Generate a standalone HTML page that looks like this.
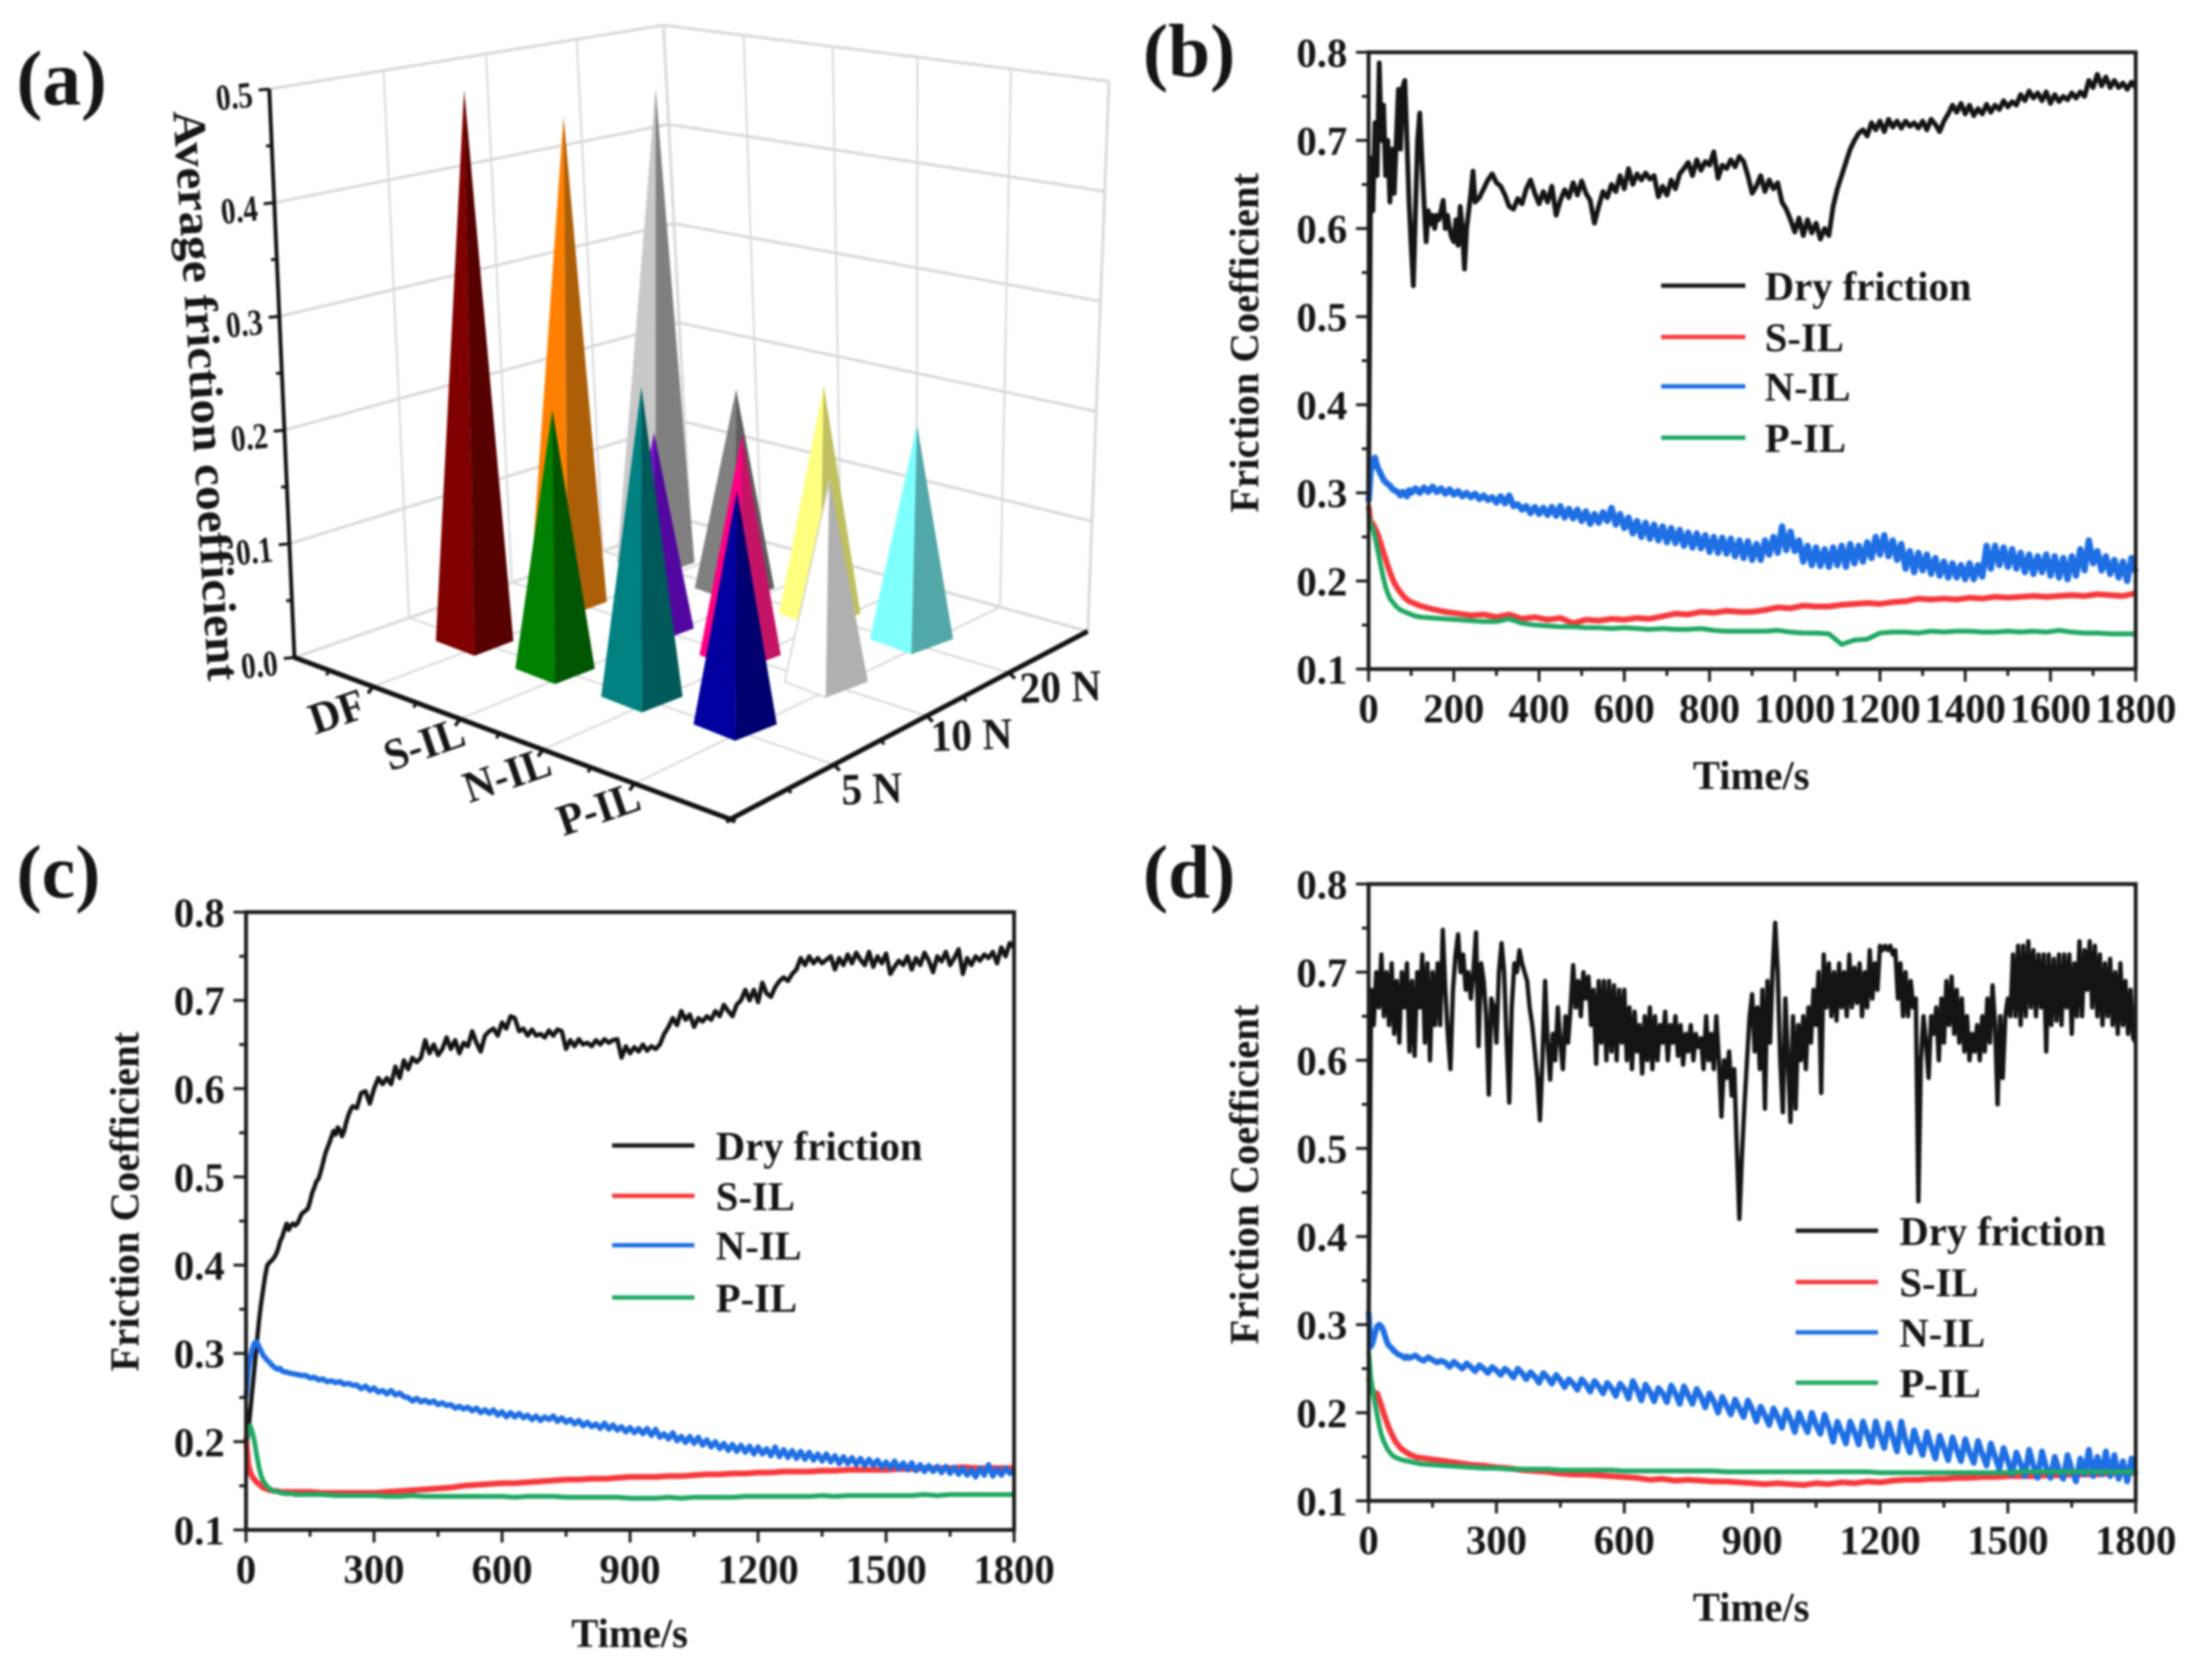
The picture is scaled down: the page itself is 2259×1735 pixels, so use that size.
<!DOCTYPE html>
<html lang="en">
<head>
<meta charset="utf-8">
<title>Friction coefficient charts</title>
<style>
html,body{margin:0;padding:0;background:#fff;width:2259px;height:1735px;overflow:hidden}
svg{display:block;filter:blur(1px)}
text{font-family:"Liberation Serif",serif;font-weight:bold;fill:#151515}
</style>
</head>
<body>
<svg id="figure" xmlns="http://www.w3.org/2000/svg" width="2259" height="1735" viewBox="0 0 2259 1735">
<rect x="0" y="0" width="2259" height="1735" fill="#fff"/>

<text x="17" y="108" font-size="80">(a)</text>
<text x="1180" y="79" font-size="78">(b)</text>
<text x="17" y="927" font-size="78">(c)</text>
<text x="1180" y="927" font-size="78">(d)</text>

<g id="chart-a"></g>
<g id="chart-b"></g>
<g id="chart-c"></g>
<g id="chart-d"></g>

<text transform="translate(179,115) rotate(86.5)" font-size="48" textLength="590" lengthAdjust="spacingAndGlyphs">Average friction coefficient</text>

<text x="1808" y="815" font-size="42" text-anchor="middle">Time/s</text>
<text transform="translate(1299,354) rotate(-90)" font-size="42" text-anchor="middle">Friction Coefficient</text>
<text x="650" y="1701" font-size="42" text-anchor="middle">Time/s</text>
<text transform="translate(143,1241) rotate(-90)" font-size="42" text-anchor="middle">Friction Coefficient</text>
<text x="1808" y="1674" font-size="42" text-anchor="middle">Time/s</text>
<text transform="translate(1299,1213) rotate(-90)" font-size="42" text-anchor="middle">Friction Coefficient</text>

<g font-size="42">
  <line x1="1715" x2="1802" y1="295" y2="295" stroke="#1a1a1a" stroke-width="4.5"/>
  <text x="1822" y="310" font-size="42">Dry friction</text>
  <line x1="1715" x2="1802" y1="348" y2="348" stroke="#f8383c" stroke-width="4.5"/>
  <text x="1822" y="363" font-size="42">S-IL</text>
  <line x1="1715" x2="1802" y1="399" y2="399" stroke="#1f6fe4" stroke-width="4.5"/>
  <text x="1822" y="414" font-size="42">N-IL</text>
  <line x1="1715" x2="1802" y1="452" y2="452" stroke="#1fa862" stroke-width="4.5"/>
  <text x="1822" y="467" font-size="42">P-IL</text>
</g>
<g>
  <line x1="632" x2="717" y1="1183" y2="1183" stroke="#1a1a1a" stroke-width="4.5"/>
  <text x="739" y="1198" font-size="42">Dry friction</text>
  <line x1="632" x2="717" y1="1235" y2="1235" stroke="#f8383c" stroke-width="4.5"/>
  <text x="739" y="1250" font-size="42">S-IL</text>
  <line x1="632" x2="717" y1="1286" y2="1286" stroke="#1f6fe4" stroke-width="4.5"/>
  <text x="739" y="1301" font-size="42">N-IL</text>
  <line x1="632" x2="717" y1="1340" y2="1340" stroke="#1fa862" stroke-width="4.5"/>
  <text x="739" y="1355" font-size="42">P-IL</text>
</g>
<g>
  <line x1="1854" x2="1939" y1="1271" y2="1271" stroke="#1a1a1a" stroke-width="4.5"/>
  <text x="1961" y="1286" font-size="42">Dry friction</text>
  <line x1="1854" x2="1939" y1="1324" y2="1324" stroke="#f8383c" stroke-width="4.5"/>
  <text x="1961" y="1339" font-size="42">S-IL</text>
  <line x1="1854" x2="1939" y1="1376" y2="1376" stroke="#1f6fe4" stroke-width="4.5"/>
  <text x="1961" y="1391" font-size="42">N-IL</text>
  <line x1="1854" x2="1939" y1="1428" y2="1428" stroke="#1fa862" stroke-width="4.5"/>
  <text x="1961" y="1443" font-size="42">P-IL</text>
</g>
</svg>

<script>
// ---------- Panel (a) data ----------
const categories3d = ["DF", "S-IL", "N-IL", "P-IL"];
const loads3d = ["5 N", "10 N", "20 N"];
const avgFriction5N = [0.475, 0.213, 0.2435, 0.176];
const avgFriction10N = [0.448, 0.172, 0.185, 0.161];
const avgFriction20N = [0.471, 0.187, 0.2045, 0.183];
const zTicks3d = ["0.0", "0.1", "0.2", "0.3", "0.4", "0.5"];

// ---------- Panel (b) data ----------
const bDry = [.30,.68,.62,.72,.66,.788,.70,.74,.66,.70,.63,.69,.64,.70,.758,.69,.76,.768,.70,.63,.58,.535,.62,.70,.731,.68,.63,.585,.62,.605,.615,.60,.615,.61,.62,.632,.60,.615,.60,.59,.585,.61,.581,.625,.60,.554,.60,.62,.64,.665,.63,
.635,.645,.655,.662,.652,.648,.638,.625,.622,.634,.628,.645,.655,.64,.628,.642,.63,.648,.615,.632,.644,.635,.652,.638,.654,.64,.632,.606,.625,.642,.635,.65,.642,.66,.645,.668,.65,.662,.655,.663,.656,.66,.636,.648,.638,.655,.645,.662,.668,.675,.66,.678,.666,.676,.672,.687,.657,.672,.668,.678,.67,.682,.676,.66,.64,.648,.66,.642,.655,.645,.652,.63,.622,.61,.596,.612,.592,.61,.595,.606,.588,.60,.592,.625,.645,.66,.675,.69,.70,.708,.712,.705,.72,.712,.722,.71,.724,.715,.722,.714,.722,.716,.72,.714,.722,.712,.724,.718,.71,.722,.73,.74,.732,.742,.73,.74,.728,.736,.73,.741,.732,.74,.735,.745,.738,.744,.74,.752,.745,.756,.748,.754,.745,.755,.742,.752,.744,.75,.746,.754,.748,.755,.75,.768,.76,.775,.762,.772,.76,.768,.76,.765,.758,.766,.76];
const bNIL = [.29,.325,.335,.34,.33,.325,.32,.315,.312,.31,.308,.305,.303,.302,.30,.297,.301,.30,.296,.303,.30,
.305,.30,.306,.301,.307,.301,.305,.299,.304,.298,.302,.296,.30,.295,.299,.293,.297,.292,.295,.289,.296,.288,.297,.285,.287,.281,.285,.277,.284,.276,.283,.275,.284,.274,.285,.272,.282,.271,.281,.268,.279,.265,.276,.266,.278,.268,.283,.264,.276,.26,.272,.254,.268,.25,.266,.248,.264,.246,.262,.244,.26,.243,.258,.24,.255,.238,.254,.237,.252,.233,.25,.232,.249,.231,.248,.228,.246,.226,.245,.224,.242,.224,.246,.23,.25,.232,.262,.235,.256,.234,.246,.222,.24,.218,.238,.217,.236,.216,.238,.218,.24,.216,.242,.22,.24,.222,.244,.226,.25,.23,.252,.228,.246,.224,.242,.214,.234,.21,.232,.212,.23,.208,.226,.206,.222,.204,.22,.204,.218,.202,.22,.202,.218,.205,.24,.214,.24,.218,.238,.216,.236,.214,.232,.21,.23,.208,.228,.21,.23,.206,.228,.204,.226,.202,.228,.206,.236,.212,.246,.22,.234,.212,.228,.208,.224,.204,.222,.20,.226,.21];
const bSIL = [.285,.265,.265,.26,.255,.248,.24,.232,.225,.217,.21,.204,.198,.194,.19,.187,.184,.181,.179,.177,.176,.175,.174,.173,.172,
.168,.165,.163,.161,.162,.159,.162,.157,.159,.156,.158,.152,.156,.155,.157,.156,.158,.157,.16,.163,.162,.165,.164,.166,.165,.165,.167,.17,.169,.172,.171,.171,.173,.174,.175,.174,.176,.177,.18,.179,.18,.179,.181,.18,.182,.181,.182,.183,.182,.183,.184,.183,.185,.184,.183,.186];
const bPIL = [.275,.262,.26,.25,.238,.226,.214,.203,.193,.186,.18,.177,.174,.171,.169,.167,.166,.165,.164,.163,.162,.161,.16,.16,.159,
.158,.157,.156,.155,.154,.154,.157,.152,.15,.149,.148,.148,.147,.147,.146,.147,.146,.145,.146,.145,.145,.146,.144,.143,.143,.143,.143,.144,.142,.141,.141,.14,.128,.133,.134,.141,.142,.142,.141,.143,.142,.143,.143,.142,.142,.143,.142,.143,.142,.144,.142,.141,.141,.14,.14,.14];

// ---------- Panel (c) data ----------
const cDry = [.19,.21,.235,.26,.285,.31,.335,.355,.372,.388,.40,.403,.405,.408,.412,.418,.427,.432,.44,.447,.44,.445,.447,.445,.447,.452,.458,.46,.462,.464,.472,.482,.488,.495,.498,.506,.515,.525,.532,.538,.545,.552,.548,.556,.553,.546,.552,.562,.57,.576,.58,
.578,.595,.597,.583,.60,.612,.605,.612,.605,.625,.612,.632,.622,.635,.63,.635,.655,.64,.65,.638,.645,.658,.645,.655,.64,.652,.648,.665,.652,.642,.66,.665,.668,.66,.675,.668,.682,.68,.665,.668,.66,.667,.66,.662,.658,.666,.66,.667,.665,.645,.655,.648,.656,.65,.652,.648,.655,.65,.656,.652,.655,.656,.635,.648,.64,.647,.642,.65,.643,.648,.645,.65,.662,.67,.68,.672,.688,.678,.684,.67,.68,.676,.682,.678,.688,.682,.695,.688,.682,.695,.70,.712,.70,.712,.698,.72,.708,.704,.715,.722,.726,.722,.73,.735,.748,.74,.75,.742,.748,.742,.746,.75,.735,.748,.74,.752,.742,.754,.746,.74,.755,.738,.75,.742,.753,.73,.738,.745,.74,.75,.735,.748,.74,.754,.745,.732,.75,.744,.755,.74,.748,.758,.73,.748,.74,.75,.745,.752,.748,.755,.742,.76,.75,.765,.76];
const cNIL = [.25,.28,.295,.305,.312,.313,.308,.303,.298,.295,.292,.29,.287,.285,.283,.282,.283,.28,.279,.279,.278,
.277,.276,.275,.275,.272,.273,.27,.271,.268,.269,.267,.268,.265,.266,.264,.264,.26,.263,.258,.261,.256,.258,.254,.258,.253,.255,.251,.25,.246,.249,.245,.247,.244,.246,.242,.244,.241,.242,.238,.24,.237,.239,.235,.238,.233,.236,.232,.236,.23,.234,.228,.233,.228,.232,.227,.23,.225,.229,.224,.228,.225,.229,.223,.227,.222,.225,.22,.224,.218,.222,.217,.22,.215,.221,.214,.219,.213,.217,.211,.216,.21,.215,.209,.215,.207,.214,.205,.209,.203,.21,.201,.206,.199,.206,.198,.205,.196,.202,.194,.20,.192,.198,.19,.197,.189,.196,.188,.195,.186,.194,.186,.192,.184,.194,.183,.191,.182,.19,.181,.189,.18,.188,.179,.186,.178,.186,.177,.184,.175,.183,.175,.182,.174,.181,.173,.18,.173,.179,.171,.177,.17,.178,.169,.176,.168,.176,.167,.174,.166,.173,.166,.172,.165,.172,.164,.171,.163,.17,.162,.168,.16,.17,.162,.174,.161,.169,.162,.17,.164,.168];
const cSIL = [.205,.175,.165,.16,.157,.154,.152,.15,.148,.147,.146,.145,.145,.144,.144,.144,.143,.143,.143,.143,.143,.143,.143,.143,.143,
.143,.142,.142,.142,.142,.142,.143,.144,.145,.146,.147,.148,.15,.151,.152,.153,.153,.154,.155,.156,.157,.157,.158,.158,.159,.16,.16,.16,.161,.161,.162,.163,.163,.164,.164,.165,.165,.166,.166,.166,.167,.167,.168,.168,.168,.168,.169,.169,.17,.17,.17,.171,.17,.17,.17,.17];
const cPIL = [.20,.215,.218,.21,.20,.185,.172,.162,.156,.152,.149,.147,.145,.144,.144,.143,.142,.142,.141,.141,.141,.141,.141,.14,.14,
.14,.14,.139,.139,.139,.139,.138,.138,.139,.138,.138,.138,.138,.138,.138,.138,.137,.138,.138,.138,.137,.137,.137,.137,.137,.136,.136,.136,.137,.136,.137,.137,.137,.137,.138,.138,.138,.138,.138,.138,.139,.138,.139,.139,.139,.139,.139,.139,.14,.139,.14,.14,.14,.14,.14,.14];

// ---------- Panel (d) data ----------
const dDry = [.30,.68,.64,.70,.66,.72,.65,.70,.64,.71,
.63,.69,.62,.70,.66,.71,.61,.69,.605,.70,
.66,.72,.62,.71,.60,.70,.64,.71,.64,.748,
.68,.63,.59,.68,.72,.743,.70,.72,.68,.70,
.67,.70,.745,.616,.71,.69,.65,.561,.67,.66,
.62,.70,.733,.70,.62,.552,.66,.71,.70,.725,
.71,.70,.69,.66,.64,.61,.58,.532,.60,.69,
.62,.578,.63,.60,.66,.62,.59,.65,.62,.66,
.708,.66,.69,.65,.70,.67,.695,.64,.68,.596,
.69,.62,.69,.60,.69,.61,.685,.60,.68,.62,
.68,.60,.66,.59,.655,.61,.64,.585,.65,.60,
.66,.59,.65,.60,.64,.62,.655,.60,.64,.62,
.65,.605,.64,.595,.63,.61,.64,.60,.63,.615,
.625,.59,.65,.60,.63,.59,.65,.60,.536,.60,
.58,.61,.56,.59,.50,.42,.49,.55,.60,.65,
.675,.61,.66,.59,.68,.545,.69,.62,.70,.756,
.70,.60,.541,.67,.60,.53,.65,.545,.64,.60,
.65,.59,.66,.62,.68,.64,.70,.563,.72,.66,
.71,.65,.70,.645,.71,.66,.70,.65,.72,.66,
.705,.665,.71,.65,.70,.66,.725,.67,.71,.68,
.73,.725,.73,.725,.73,.72,.725,.67,.71,.65,
.70,.65,.69,.66,.67,.44,.60,.65,.62,.58,
.65,.63,.66,.60,.67,.62,.69,.64,.695,.63,
.68,.62,.67,.61,.65,.60,.63,.61,.64,.60,
.65,.61,.67,.62,.685,.64,.55,.65,.58,.65,
.67,.65,.72,.65,.73,.64,.73,.65,.735,.66,
.725,.65,.72,.66,.72,.61,.72,.64,.715,.645,
.72,.64,.72,.66,.72,.63,.71,.65,.735,.65,
.725,.68,.735,.66,.73,.65,.72,.64,.71,.65,
.715,.64,.70,.63,.71,.64,.69,.63,.68,.625,
.62];
const dNIL = [.315,.275,.28,.29,.298,.30,.298,.293,.285,.278,.275,.273,.27,.268,.266,.265,.264,.262,.264,.262,.263,
.265,.261,.259,.263,.26,.257,.259,.257,.252,.258,.254,.25,.256,.252,.247,.254,.25,.245,.252,.248,.243,.25,.246,.24,.25,.245,.238,.246,.241,.234,.245,.24,.233,.243,.237,.229,.238,.233,.226,.238,.232,.224,.236,.23,.222,.234,.228,.219,.233,.227,.216,.236,.226,.214,.232,.224,.213,.228,.222,.212,.231,.222,.21,.23,.22,.21,.227,.218,.206,.222,.213,.20,.218,.208,.198,.215,.205,.195,.214,.204,.19,.207,.197,.186,.205,.195,.183,.203,.192,.178,.20,.188,.178,.20,.186,.176,.198,.184,.167,.19,.178,.165,.19,.178,.164,.19,.176,.162,.19,.174,.16,.188,.172,.156,.19,.168,.155,.18,.165,.152,.178,.162,.148,.174,.16,.146,.172,.158,.145,.17,.155,.143,.168,.153,.14,.165,.15,.136,.16,.145,.13,.155,.142,.128,.158,.14,.126,.156,.138,.126,.15,.135,.125,.152,.135,.122,.148,.13,.158,.128,.15,.13,.156,.128,.152,.125,.145,.122,.148,.13];
const dSIL = [.24,.23,.225,.222,.222,.215,.208,.20,.193,.186,.18,.175,.17,.166,.163,.16,.158,.156,.155,.153,.152,.151,.15,.149,.149,
.147,.145,.143,.141,.14,.138,.137,.135,.134,.133,.131,.13,.13,.129,.128,.127,.126,.124,.125,.123,.124,.123,.122,.122,.121,.12,.119,.12,.119,.118,.12,.119,.121,.12,.122,.121,.123,.124,.124,.125,.125,.126,.126,.127,.127,.128,.128,.128,.129,.129,.13,.13,.13,.131,.131,.132];
const dPIL = [.27,.24,.225,.21,.198,.185,.175,.168,.163,.158,.155,.152,.15,.149,.148,.147,.146,.146,.145,.145,.144,.144,.143,.143,.142,
.141,.14,.139,.138,.137,.137,.136,.136,.136,.136,.135,.135,.135,.135,.135,.134,.134,.134,.134,.134,.134,.134,.134,.133,.133,.133,.133,.133,.133,.133,.133,.133,.133,.133,.133,.132,.132,.132,.132,.132,.132,.132,.132,.132,.132,.132,.133,.133,.133,.133,.133,.133,.133,.133,.133,.133];

// ---------- Tick labels ----------
const yTickLabels = ["0.1", "0.2", "0.3", "0.4", "0.5", "0.6", "0.7", "0.8"];
const xTicksB = ["0", "200", "400", "600", "800", "1000", "1200", "1400", "1600", "1800"];
const xTicksCD = ["0", "300", "600", "900", "1200", "1500", "1800"];

const NS = "http://www.w3.org/2000/svg";
function mk(tag, parent, attrs) {
  const el = document.createElementNS(NS, tag);
  for (const k in attrs) el.setAttribute(k, attrs[k]);
  parent.appendChild(el);
  return el;
}
function lerp(a, b, t) { return [a[0] + (b[0] - a[0]) * t, a[1] + (b[1] - a[1]) * t]; }

// ---------- 2D line panels ----------
function timeAt(i, earlyCount, earlyStep, lateStep) {
  return i < earlyCount ? i * earlyStep : (earlyCount - 1) * earlyStep + (i - earlyCount + 1) * lateStep;
}
function drawLinePanel(cfg) {
  const g = document.getElementById(cfg.id);
  const xS = t => cfg.left + (t / 1800) * (cfg.right - cfg.left);
  const yS = v => cfg.bottom - ((v - 0.1) / 0.7) * (cfg.bottom - cfg.top);

  cfg.series.forEach(s => {
    const pts = s.values.map((v, i) => {
      const t = timeAt(i, s.early, s.earlyStep, s.lateStep);
      return xS(t).toFixed(1) + "," + yS(v).toFixed(1);
    }).join(" ");
    const line = mk("polyline", g, { points: pts, fill: "none", stroke: s.color, "stroke-width": s.width, "stroke-linejoin": "round" });
    
    
  });

  const frame = mk("rect", g, { x: cfg.left, y: cfg.top, width: cfg.right - cfg.left, height: cfg.bottom - cfg.top, fill: "none", stroke: "#1c1c1c", "stroke-width": 4 });
  
  

  yTickLabels.forEach((lab, i) => {
    const v = parseFloat(lab);
    const tick = mk("line", g, { x1: cfg.left - 13, x2: cfg.left, y1: yS(v), y2: yS(v), stroke: "#1c1c1c", "stroke-width": 3 });
    
    
    if (i < yTickLabels.length - 1) {
      const minor = mk("line", g, { x1: cfg.left - 7, x2: cfg.left, y1: yS(v + 0.05), y2: yS(v + 0.05), stroke: "#1c1c1c", "stroke-width": 3 });
      
      
    }
    const label = mk("text", g, { x: cfg.left - 22, y: yS(v) + 15, "font-size": 42, "text-anchor": "end" });
    label.textContent = lab;
    
    
  });
  cfg.xTicks.forEach((lab, i) => {
    const t = parseFloat(lab);
    const tick = mk("line", g, { x1: xS(t), x2: xS(t), y1: cfg.bottom, y2: cfg.bottom + 13, stroke: "#1c1c1c", "stroke-width": 3 });
    
    
    if (i < cfg.xTicks.length - 1) {
      const mid = (t + parseFloat(cfg.xTicks[i + 1])) / 2;
      const minor = mk("line", g, { x1: xS(mid), x2: xS(mid), y1: cfg.bottom, y2: cfg.bottom + 7, stroke: "#1c1c1c", "stroke-width": 3 });
      
      
    }
    const label = mk("text", g, { x: xS(t), y: cfg.bottom + 55, "font-size": 42, "text-anchor": "middle" });
    label.textContent = lab;
    
    
  });
}
const BLACK = "#141414", RED = "#f8383c", BLUE = "#1f6fe4", GREEN = "#1fa862";
function seriesSet(dry, dryEarly, dryStep, dryLate, dryWidth, n, s, p, nWidth) {
  return [
    { name: "dry-friction-line", values: dry, early: dryEarly, earlyStep: dryStep, lateStep: dryLate, color: BLACK, width: dryWidth },
    { name: "s-il-line", values: s, early: 25, earlyStep: 5, lateStep: 30, color: RED, width: 6 },
    { name: "n-il-line", values: n, early: 21, earlyStep: 5, lateStep: 10, color: BLUE, width: nWidth },
    { name: "p-il-line", values: p, early: 25, earlyStep: 5, lateStep: 30, color: GREEN, width: 5 }
  ];
}
drawLinePanel({ id: "chart-b", left: 1413, right: 2205, top: 54, bottom: 691, xTicks: xTicksB, series: seriesSet(bDry, 51, 5, 10, 5, bNIL, bSIL, bPIL, 6.5) });
drawLinePanel({ id: "chart-c", left: 254, right: 1047, top: 942, bottom: 1580, xTicks: xTicksCD, series: seriesSet(cDry, 51, 5, 10, 4.5, cNIL, cSIL, cPIL, 5.5) });
drawLinePanel({ id: "chart-d", left: 1413, right: 2205, top: 913, bottom: 1550, xTicks: xTicksCD, series: seriesSet(dDry, 301, 6, 6, 4.5, dNIL, dSIL, dPIL, 6) });

// ---------- Panel (a) ----------
(function () {
  const g = document.getElementById("chart-a");
  const L = [304, 679], F = [754, 846], R = [1123, 652], B = [712, 538];
  const TL = [278, 92], TB = [685, 26], TR = [1145, 84];
  const GRID = "#d9d9d9";
  const seg = (a, b, stroke, w, name) => {
    const el = mk("line", g, { x1: a[0], y1: a[1], x2: b[0], y2: b[1], stroke: stroke, "stroke-width": w });
    
    
    return el;
  };
  const leftFracs = [0.29, 0.55, 0.78];
  const rightFracs = [0.18, 0.38, 0.57, 0.78];
  const zFrac = z => z / 0.5;

  // walls
  seg(TL, TB, GRID, 3, "left-wall-top-edge");
  seg(TB, TR, GRID, 3, "right-wall-top-edge");
  seg(TB, B, GRID, 3, "back-wall-edge");
  seg(TR, R, GRID, 3, "right-wall-edge");
  seg(L, B, GRID, 3, "floor-back-left-edge");
  seg(B, R, GRID, 3, "floor-back-right-edge");
  zTicks3d.forEach(lab => {
    const f = zFrac(parseFloat(lab));
    if (f > 0 && f < 1) {
      seg(lerp(L, TL, f), lerp(B, TB, f), GRID, 3, "left-wall-gridline");
      seg(lerp(B, TB, f), lerp(R, TR, f), GRID, 3, "right-wall-gridline");
    }
  });
  leftFracs.forEach(u => {
    seg(lerp(L, B, u), lerp(TL, TB, u), GRID, 2, "left-wall-vertical-gridline");
  });
  rightFracs.forEach(v => {
    seg(lerp(B, R, v), lerp(TB, TR, v), GRID, 2, "right-wall-vertical-gridline");
  });
  // floor grid
  rightFracs.forEach(v => {
    seg(lerp(L, F, v), lerp(B, R, v), GRID, 2, "floor-category-gridline");
  });
  leftFracs.forEach(u => {
    seg(lerp(F, R, u), lerp(L, B, u), GRID, 2, "floor-load-gridline");
  });

  // pyramids
  const rows = [avgFriction5N, avgFriction10N, avgFriction20N];
  const faceLeft = [["#800000", "#008000", "#008080", "#0000a0"], ["#ff8000", "#7a10d0", "#ff0080", "#ffffff"], ["#c8c8c8", "#808080", "#ffff80", "#80ffff"]];
  const faceRight = [["#560000", "#005500", "#005a5a", "#000070"], ["#ad5f08", "#5208a0", "#c41465", "#b0b0b0"], ["#808080", "#5e5e5e", "#c0c060", "#52a8a8"]];
  const c00 = [490, 662], c30 = [759, 748], c02 = [677, 581], c32 = [941, 660];
  const baseAt = (i, j) => {
    const p = lerp(lerp(c00, c30, i / 3), lerp(c02, c32, i / 3), j / 2);
    p[0] += j === 1 ? 3 : -i * (3 - i) * 3.3;
    return p;
  };
  const unitPx = (i, j) => 1200 + 57 * i - 80 * j;
  [2, 1, 0].forEach(j => {
    rows[j].forEach((val, i) => {
      const c = baseAt(i, j);
      const h = val * unitPx(i, j);
      const hw = 40 + i;
      const hd = 14 + (2 - j) * 0.6 + i * 0.6;
      const apex = [c[0] + h * (c[0] - 680) * 1e-4, c[1] - h];
      const pl = [c[0] - hw, c[1]], pr = [c[0] + hw, c[1]], pf = [c[0], c[1] + hd];
      const a = mk("polygon", g, { points: [apex, pl, pf].map(p => p.join(",")).join(" "), fill: faceLeft[j][i], stroke: faceLeft[j][i] === "#ffffff" ? "#cfcfcf" : "none", "stroke-width": 1.5 });
      
      
      const b = mk("polygon", g, { points: [apex, pf, pr].map(p => p.join(",")).join(" "), fill: faceRight[j][i] });
      
      
    });
  });

  // black axes
  seg(TL, L, "#111", 4, "z-axis");
  seg(L, lerp(L, F, 1.012), "#111", 5, "category-axis");
  seg(lerp(F, R, -0.012), R, "#111", 5, "load-axis");
  zTicks3d.forEach((lab, i) => {
    const z = parseFloat(lab);
    const p = lerp(L, TL, zFrac(z));
    seg(p, [p[0] - 11, p[1] + 1], "#111", 3, "z-tick");
    if (i < zTicks3d.length - 1) {
      const m = lerp(L, TL, zFrac(z + 0.05));
      seg(m, [m[0] - 6, m[1]], "#111", 3, "z-minor-tick");
    }
    const t = mk("text", g, { transform: "translate(" + (p[0] - 16) + "," + (p[1] + 18) + ") rotate(-6) scale(0.8,1)", "font-size": 38, "text-anchor": "end" });
    t.textContent = lab;
    
    
  });
  categories3d.forEach((lab, i) => {
    const p = lerp(L, F, rightFracs[i]);
    seg(p, [p[0] - 5, p[1] + 7], "#111", 3.5, "category-tick");
    const minorPoint = lerp(L, F, rightFracs[i] - 0.1);
    seg(minorPoint, [minorPoint[0] - 3, minorPoint[1] + 5], "#111", 3, "category-minor-tick");
    const t = mk("text", g, { transform: "translate(" + (p[0] - 37) + "," + (p[1] + 26) + ") rotate(-19) scale(0.95,1)", y: 15, "font-size": 46, "text-anchor": "middle" });
    t.textContent = lab;
    
    
  });
  loads3d.forEach((lab, j) => {
    const p = lerp(F, R, leftFracs[j]);
    seg(p, [p[0] + 6, p[1] + 6], "#111", 3.5, "load-tick");
    const minorPoint = lerp(F, R, leftFracs[j] - 0.13);
    seg(minorPoint, [minorPoint[0] + 4, minorPoint[1] + 4], "#111", 3, "load-minor-tick");
    const t = mk("text", g, { transform: "translate(" + (p[0] + 39 + 7 * j) + "," + (p[1] + 25 - 5 * j) + ") rotate(-2) scale(0.93,1)", y: 15, "font-size": 46, "text-anchor": "middle" });
    t.textContent = lab;
    
    
  });
})();
</script>
</body>
</html>
